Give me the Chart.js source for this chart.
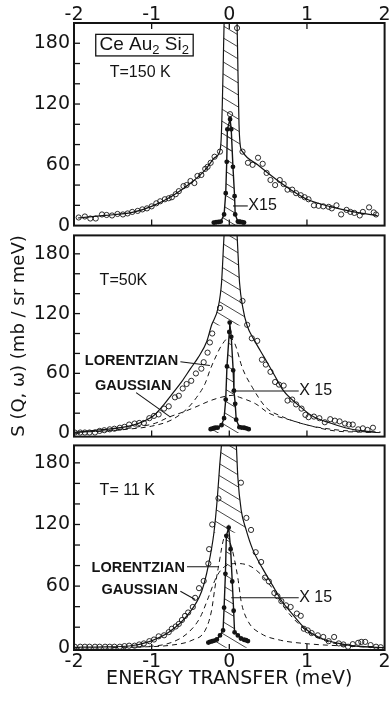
<!DOCTYPE html>
<html>
<head>
<meta charset="utf-8">
<script src="https://cdn.jsdelivr.net/npm/chart.js@4"></script>
<style>
  body { margin: 0; background: #fff; }
  #wrap { position: relative; width: 390px; height: 702px; background: #fff; }
  canvas { position: absolute; left: 0; }
</style>
</head>
<body>
<div id="wrap">
  <canvas id="p150" width="390" height="231" style="top:0"></canvas>
  <canvas id="p50" width="390" height="212" style="top:230px"></canvas>
  <canvas id="p11" width="390" height="262" style="top:440px"></canvas>
</div>
<script>
// axis ticks
const xTickLabels = [-2, -1, 0, 1, 2];
const xTickMarks = [-1, 0, 1];
const yTickLabels = [0, 60, 120, 180];
const yTickMarks = [0, 20, 40, 60, 80, 100, 120, 140, 160, 180, 200];

// T = 150 K  [energy (meV), S (mb/sr meV)]
const circles150 = [[-1.94,8],[-1.86,9],[-1.79,7],[-1.72,7],[-1.64,11],[-1.58,10.5],[-1.51,10],[-1.44,11.5],[-1.37,11],[-1.31,12],
  [-1.25,13.5],[-1.18,14.5],[-1.12,16],[-1.06,17],[-1.0,19],[-0.94,22],[-0.89,24],[-0.83,26],[-0.78,27],[-0.74,28],
  [-0.69,31],[-0.65,34],[-0.59,39],[-0.55,40],[-0.5,44],[-0.45,42],[-0.41,49],[-0.36,50],[-0.31,56],[-0.28,58],
  [-0.24,62],[-0.19,68],[-0.12,73],[0.01,110],[0.1,195],[0.17,73],[0.24,62],[0.3,60],[0.37,67],[0.43,61],
  [0.48,52],[0.53,45],[0.59,40],[0.65,45],[0.7,41],[0.75,35.5],[0.81,35.5],[0.86,32],[0.92,30],[0.97,28],
  [1.02,26],[1.09,20],[1.15,19.5],[1.21,19],[1.28,18.5],[1.32,17],[1.38,20],[1.44,11],[1.51,15.5],[1.56,13.5],
  [1.61,12.5],[1.68,10],[1.72,13.5],[1.8,18],[1.86,13],[1.89,11]];
const fit150 = [[-1.95,7.5],[-1.6,10],[-1.25,13],[-1.0,19],[-0.74,29],[-0.48,43],[-0.31,55],[-0.19,67],[-0.12,74],[-0.105,85],
  [-0.09,120],[-0.078,160],[-0.067,200],[0.02,290],[0.1,200],[0.112,150],[0.125,100],[0.14,80],[0.17,73],[0.365,60],
  [0.58,47],[0.79,35.5],[1.0,26],[1.3,18.7],[1.64,13],[1.91,9.7]];
const elastic150 = [[-0.2,3],[-0.17,3.3],[-0.14,3.6],[-0.11,4],[-0.067,11],[-0.046,32],[-0.033,63],[-0.025,95],[0.01,105],[0.025,95],
  [0.047,58],[0.068,29],[0.076,11],[0.11,4],[0.13,3.8],[0.145,3.6],[0.17,3.3],[0.19,3]];

// T = 50 K
const circles50 = [[-1.99,0.6],[-1.92,0.6],[-1.86,0.6],[-1.8,0.6],[-1.73,0.6],[-1.67,2.2],[-1.61,2.9],[-1.54,3.8],[-1.48,4.4],[-1.41,5.4],
  [-1.35,6.3],[-1.29,8.6],[-1.22,9.6],[-1.16,10.2],[-1.1,10.2],[-1.03,15],[-0.97,17.3],[-0.91,18.8],[-0.84,24.6],[-0.78,26.9],
  [-0.7,35.9],[-0.65,37.5],[-0.6,44.8],[-0.55,49.3],[-0.49,52.5],[-0.43,59.9],[-0.36,64.7],[-0.33,71.2],[-0.28,80.8],[-0.25,91],
  [-0.22,100],[-0.12,125.6],[0.17,132.7],[0.23,108.7],[0.29,95.2],[0.36,92.6],[0.42,73.7],[0.47,68.8],[0.53,61.5],[0.59,51.3],
  [0.64,48.7],[0.7,47.7],[0.75,32.7],[0.81,33.7],[0.86,28.8],[0.93,24.6],[0.98,18.3],[1.02,16],[1.09,16.6],[1.16,15],
  [1.23,10.9],[1.3,14],[1.36,12.5],[1.42,11.8],[1.49,9.6],[1.54,8.6],[1.59,8.6],[1.66,3.8],[1.72,4.8],[1.78,3.2],[1.85,5.4]];
const fit50 = [[-2,0.8],[-1.67,3.2],[-1.25,7.7],[-0.99,16.6],[-0.86,27],[-0.74,39],[-0.61,52],[-0.5,64.7],[-0.4,76],[-0.29,92],
  [-0.23,108],[-0.144,126],[-0.1,151],[-0.067,199],[0.02,290],[0.1,199],[0.132,151],[0.174,126],[0.229,108],[0.32,93.6],
  [0.45,76],[0.58,58.3],[0.7,42.3],[0.87,29.4],[1.08,16.6],[1.3,10.2],[1.55,4.4],[1.89,0.8]];
const lorentz50 = [[-1.95,1],[-1.6,2],[-1.3,4],[-1.0,7],[-0.75,13],[-0.55,24],[-0.42,36],[-0.31,50],[-0.25,63],[-0.19,74],
  [-0.1,88],[0.0,96],[0.07,90],[0.17,65],[0.3,45.5],[0.47,26],[0.68,16.6],[0.98,8.6],[1.32,3.8],[1.7,1.5],[1.95,1]];
const gauss50 = [[-1.9,1],[-1.5,3],[-1.2,6],[-0.95,10],[-0.78,16],[-0.6,21],[-0.44,26],[-0.23,33],[-0.05,37],[0.05,38],
  [0.13,36],[0.34,29.4],[0.51,20],[0.77,13.5],[1.06,7],[1.36,2.2],[1.7,1],[1.95,0.5]];
const elastic50 = [[-0.24,4],[-0.22,4.5],[-0.2,5],[-0.18,5.4],[-0.15,5.5],[-0.1,8],[-0.067,15],[-0.046,33.7],[-0.03,67],[0.0,101.5],
  [0.005,111],[0.025,96.7],[0.05,63],[0.06,42.6],[0.076,29.4],[0.089,13.5],[0.13,6],[0.16,5.6],[0.19,5.4],[0.22,4.8],[0.25,4]];

// T = 11 K
const circles11 = [[-1.99,1],[-1.92,1],[-1.86,1],[-1.8,1],[-1.73,1],[-1.67,1],[-1.6,1],[-1.54,1],[-1.48,1],[-1.41,1],
  [-1.35,1.6],[-1.29,2],[-1.22,2],[-1.16,3.2],[-1.1,4.2],[-1.03,6.4],[-0.97,8],[-0.91,11.1],[-0.84,12.1],[-0.78,15.2],
  [-0.74,18.5],[-0.69,20.7],[-0.65,23.2],[-0.61,27],[-0.57,31],[-0.53,34.3],[-0.47,39.7],[-0.44,48.6],[-0.39,58],[-0.33,65],
  [-0.27,82],[-0.26,96],[-0.22,120],[-0.14,145.4],[0.15,160.7],[0.22,126.4],[0.28,114.7],[0.34,93],[0.41,83.5],[0.46,68.3],
  [0.51,64.5],[0.58,53.3],[0.62,50.2],[0.67,45.4],[0.73,41.3],[0.79,39.7],[0.87,33.3],[0.92,31.1],[0.96,18.5],[1.01,16.9],
  [1.06,14.3],[1.14,12.1],[1.21,10.5],[1.28,6.4],[1.35,10.5],[1.41,4.2],[1.47,3.2],[1.53,1],[1.59,3.5],[1.66,4.8],
  [1.7,5.7],[1.75,5.7],[1.82,2.6],[1.89,1],[1.95,0.5]];
const fit11 = [[-2,0.5],[-1.6,0.8],[-1.29,1.7],[-1.03,6],[-0.78,15],[-0.525,33],[-0.356,55],[-0.27,80],[-0.198,112],[-0.155,145],
  [-0.122,179],[-0.1,198],[0.0,290],[0.09,198],[0.11,166],[0.153,134],[0.216,115],[0.3,96],[0.43,77],[0.555,61],
  [0.68,45],[0.81,33],[0.98,18.5],[1.19,9],[1.53,2.6],[2.0,0]];
const lorentz11 = [[-1.2,0.5],[-0.74,2.6],[-0.48,7.3],[-0.31,17],[-0.229,36],[-0.186,58],[-0.144,77],[-0.05,109],[0.025,99],[0.11,68],
  [0.153,45],[0.24,26],[0.41,13.7],[0.66,7.3],[0.96,4.2],[1.4,2],[1.9,1]];
const gauss11 = [[-1.5,0.3],[-1.1,1],[-0.75,5],[-0.525,15],[-0.376,29.5],[-0.271,48.6],[-0.165,69],[-0.06,79],[0.11,82],[0.28,79],
  [0.45,68],[0.58,55],[0.72,38],[0.87,25],[1.0,16],[1.19,8],[1.53,2],[1.85,0.5]];
const elastic11 = [[-0.27,5],[-0.25,5.7],[-0.22,6.3],[-0.19,7],[-0.16,8],[-0.12,12],[-0.08,17],[-0.067,39],[-0.05,72],[-0.038,109],
  [-0.008,117],[0.017,96],[0.038,64.5],[0.056,36],[0.068,15],[0.11,12],[0.15,9],[0.19,7.8],[0.216,7.3],[0.24,6.5]];

const INK = '#141414';
const pts = a => a.map(([x, y]) => ({x, y}));

// diagonal hatching for the elastic peak
function makeHatch() {
  const c = document.createElement('canvas');
  c.width = 20; c.height = 12;
  const g = c.getContext('2d');
  g.strokeStyle = '#333';
  g.lineWidth = 0.9;
  [-12, 0, 12].forEach(off => {
    g.beginPath(); g.moveTo(0, off); g.lineTo(20, off + 12); g.stroke();
  });
  return g.createPattern(c, 'repeat');
}
const hatch = makeHatch();

// frame, inward ticks, labels and leader lines
const deco = {
  id: 'deco',
  afterDatasetsDraw(chart, args, opts) {
    const {ctx, chartArea: a, scales: {x, y}} = chart;
    const seg = (x0, y0, x1, y1) => { ctx.beginPath(); ctx.moveTo(x0, y0); ctx.lineTo(x1, y1); ctx.stroke(); };
    ctx.save();
    ctx.strokeStyle = INK;
    ctx.fillStyle = INK;
    ctx.lineWidth = 1.3;
    yTickMarks.forEach(v => {
      const py = y.getPixelForValue(v);
      if (py > a.top + 1 && py < a.bottom - 1) seg(a.left, py, a.left + 6, py);
    });
    xTickMarks.forEach(v => {
      const px = x.getPixelForValue(v);
      seg(px, a.bottom, px, a.bottom - 6);
      if (opts.topTicks) seg(px, a.top, px, a.top + 6);
    });
    ctx.lineWidth = 1.1;
    (opts.leaders || []).forEach(([x0, y0, x1, y1]) => {
      seg(x.getPixelForValue(x0), y.getPixelForValue(y0), x.getPixelForValue(x1), y.getPixelForValue(y1));
    });
    if (opts.box) {
      const b = opts.box;
      const l = x.getPixelForValue(b[0]), t = y.getPixelForValue(b[3]);
      ctx.lineWidth = 1.3;
      ctx.strokeRect(l, t, x.getPixelForValue(b[2]) - l, y.getPixelForValue(b[1]) - t);
    }
    ctx.textBaseline = 'middle';
    (opts.notes || []).forEach(n => {
      let px = x.getPixelForValue(n.x);
      const py = y.getPixelForValue(n.y);
      const parts = Array.isArray(n.text) ? n.text : [[n.text, false]];
      const fontOf = sub => (n.weight || '') + ' ' + (sub ? Math.round(n.size * 0.68) : n.size) + 'px "Liberation Sans", Arial, sans-serif';
      let w = 0;
      parts.forEach(([s, sub]) => { ctx.font = fontOf(sub); w += ctx.measureText(s).width; });
      if (n.align === 'center') px -= w / 2;
      ctx.textAlign = 'left';
      parts.forEach(([s, sub]) => {
        ctx.font = fontOf(sub);
        ctx.fillText(s, px, sub ? py + n.size * 0.3 : py);
        px += ctx.measureText(s).width;
      });
    });
    ctx.lineWidth = 2;
    ctx.strokeRect(a.left, a.top, a.right - a.left, a.bottom - a.top);
    ctx.restore();
  }
};

function datasetsFor(circles, fit, base, elastic, lorentz, gauss) {
  const sets = [
    {data: pts(circles), showLine: false, pointRadius: 2.6, pointBorderWidth: 0.9,
     pointBorderColor: INK, pointBackgroundColor: 'rgba(255,255,255,0)', order: 0},
    {data: pts(fit), borderColor: INK, borderWidth: 1.2, pointRadius: 0,
     cubicInterpolationMode: 'monotone', order: 1},
    {data: pts(fit.filter(p => p[1] >= base)), borderWidth: 0, pointRadius: 0,
     cubicInterpolationMode: 'monotone', fill: {value: base}, backgroundColor: hatch, order: 6},
    {data: pts(elastic), borderColor: INK, borderWidth: 1.4, pointRadius: 1.7,
     pointBackgroundColor: INK, pointBorderColor: INK, tension: 0, fill: 'origin', backgroundColor: hatch, order: 2}
  ];
  [lorentz, gauss].forEach(d => {
    if (d) sets.push({data: pts(d), borderColor: INK, borderWidth: 1, borderDash: [5, 4],
      pointRadius: 0, cubicInterpolationMode: 'monotone', order: 3});
  });
  return sets;
}

function makePanel(id, sets, yMin, yMax, xPos, deco_opts, padding, yTitle) {
  const tickFont = {family: 'DejaVu Sans', size: 19, lineHeight: 1};
  new Chart(document.getElementById(id), {
    type: 'line',
    data: {datasets: sets},
    options: {
      responsive: false,
      animation: false,
      layout: {padding: padding},
      plugins: {legend: {display: false}, tooltip: {enabled: false}, deco: deco_opts},
      scales: {
        x: {
          type: 'linear', min: -2, max: 2,
          position: xPos || 'bottom',
          display: !!xPos,
          grid: {display: false, drawTicks: false},
          border: {display: false},
          ticks: {font: tickFont, color: INK, padding: xPos === 'top' ? -2 : 3, maxRotation: 0, callback: v => String(v)},
          title: {
            display: xPos === 'bottom',
            text: 'ENERGY TRANSFER (meV)',
            color: INK,
            font: {family: 'DejaVu Sans', size: 19},
            padding: {top: 0, bottom: 12}
          },
          afterBuildTicks: s => { s.ticks = xTickLabels.map(v => ({value: v})); },
          afterFit: s => {
            s.height = xPos === 'top' ? 23 : (xPos === 'bottom' ? 52 : 0);
            s.paddingLeft = 0; s.paddingRight = 0;
          }
        },
        y: {
          min: yMin, max: yMax,
          grid: {display: false, drawTicks: false},
          border: {display: false},
          ticks: {font: tickFont, color: INK, padding: 4},
          title: {
            display: !!yTitle,
            text: yTitle || '',
            color: INK,
            font: {family: 'DejaVu Sans', size: 18},
            padding: {top: 9, bottom: 0}
          },
          afterBuildTicks: s => { s.ticks = yTickLabels.map(v => ({value: v})); },
          afterFit: s => {
            s.width = 74;
            s.paddingTop = 0; s.paddingBottom = 0;
          }
        }
      }
    },
    plugins: [deco]
  });
}

makePanel('p150', datasetsFor(circles150, fit150, 74, elastic150), 0, 200, 'top', {
  topTicks: true,
  box: [-1.72, 167.5, -0.465, 188.8],
  leaders: [[0.047, 19.4, 0.238, 19.4]],
  notes: [
    {text: [['Ce Au', false], ['2', true], [' Si', false], ['2', true]], x: -1.095, y: 178.5, size: 19, align: 'center'},
    {text: 'T=150 K', x: -1.54, y: 151, size: 16},
    {text: 'X15', x: 0.245, y: 19.4, size: 16}
  ]
}, {top: 0, bottom: 1, left: 0, right: 2});

makePanel('p50', datasetsFor(circles50, fit50, 108, elastic50, lorentz50, gauss50), -3.5, 198.5, null, {
  leaders: [[-0.63, 71.7, -0.25, 67.9], [-1.2, 40.7, -0.757, 16], [0.026, 42.3, 0.894, 42.3]],
  notes: [
    {text: 'T=50K', x: -1.67, y: 153, size: 16},
    {text: 'LORENTZIAN', x: -1.86, y: 72, size: 14.5, weight: 'bold'},
    {text: 'GAUSSIAN', x: -1.73, y: 47.4, size: 14.5, weight: 'bold'},
    {text: 'X 15', x: 0.9, y: 42.3, size: 16}
  ]
}, {top: 1, bottom: 1, left: 0, right: 2}, 'S (Q, ω) (mb / sr meV)');

makePanel('p11', datasetsFor(circles11, fit11, 112, elastic11, lorentz11, gauss11), -2.2, 197, 'bottom', {
  leaders: [[-0.545, 78.8, -0.144, 78.8], [-0.63, 55, -0.44, 47], [0.025, 48.6, 0.894, 48.6]],
  notes: [
    {text: 'T= 11 K', x: -1.67, y: 153, size: 16},
    {text: 'LORENTZIAN', x: -1.774, y: 77.8, size: 14.5, weight: 'bold'},
    {text: 'GAUSSIAN', x: -1.647, y: 55.9, size: 14.5, weight: 'bold'},
    {text: 'X 15', x: 0.9, y: 48.6, size: 16}
  ]
}, {top: 1, bottom: 0, left: 0, right: 2});
</script>
</body>
</html>
